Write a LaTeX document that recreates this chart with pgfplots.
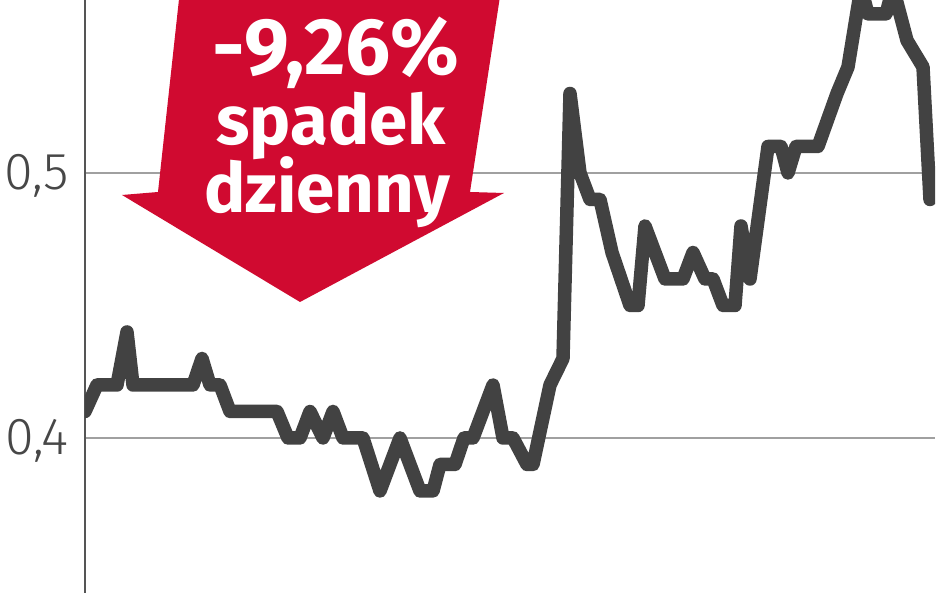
\documentclass[border=0pt]{standalone}
\usepackage{fontspec}
\setmainfont{Fira Sans}
\newfontfamily\lightfont{Fira Sans Light}
\usepackage{pgfplots}
\pgfplotsset{compat=1.18}

\definecolor{linegray}{RGB}{66,66,66}
\definecolor{gridgray}{RGB}{160,160,160}
\definecolor{axisgray}{RGB}{85,85,85}
\definecolor{arrowred}{RGB}{208,10,48}

\begin{document}
\begin{tikzpicture}
\begin{axis}[
    scale only axis,
    width=850pt, height=593pt,
    xmin=0, xmax=850,
    ymin=0.34151, ymax=0.56528,
    axis x line=none,
    axis y line*=left,
    axis line style={axisgray, line width=2.2pt},
    xtick=\empty,
    ytick={0.4,0.5},
    yticklabels={{0,4},{0,5}},
    major tick length=0pt,
    ymajorgrids,
    grid style={gridgray, line width=1.6pt},
    yticklabel style={font=\lightfont\fontsize{52}{52}\selectfont,
        text=black!72, inner sep=0pt, xshift=-16pt, yshift=-3pt},
    clip=true,
]
% kurs dzienny
\addplot[linegray, line width=13.5pt, line join=round, line cap=round] coordinates {
(0,0.41) (12,0.42) (32,0.42) (42,0.44) (48,0.42) (108,0.42) (117,0.43)
(125,0.42) (135,0.42) (145,0.41) (192,0.41) (203,0.40) (215,0.40)
(225,0.41) (238,0.40) (248,0.41) (258,0.40) (278,0.40) (295,0.38)
(315,0.40) (335,0.38) (348,0.38) (355,0.39) (370,0.39) (379,0.40)
(388,0.40) (408,0.42) (418,0.40) (428,0.40) (442,0.39) (448,0.39)
(465,0.42) (478,0.43) (485,0.53) (495,0.50) (505,0.49) (515,0.49)
(527,0.47) (545,0.45) (553,0.45) (560,0.48) (580,0.46) (598,0.46)
(608,0.47) (620,0.46) (628,0.46) (638,0.45) (650,0.45) (656,0.48)
(665,0.46) (683,0.51) (696,0.51) (703,0.50) (711,0.51) (733,0.51)
(752,0.53) (763,0.54) (776,0.57) (783,0.56) (801,0.56) (808,0.57)
(822,0.55) (838,0.54) (845,0.49)
};
\end{axis}

% strzalka z opisem, w pikselach obrazka (od lewego gornego rogu)
\begin{scope}[shift={(current axis.north west)}, xshift=-85pt, x=1pt, y=-1pt]
\fill[arrowred] (180,-10) -- (158,192) -- (122,195) -- (300,302)
    -- (504,193) -- (470,192) -- (501,-10) -- cycle;
\node[anchor=base, text=white, inner sep=0pt,
    font=\fontsize{80}{80}\selectfont\bfseries] at (336,75) {-9,26\%};
\node[anchor=base, text=white, inner sep=0pt,
    font=\fontsize{69}{69}\selectfont\bfseries] at (331,145) {spadek};
\node[anchor=base, text=white, inner sep=0pt,
    font=\fontsize{69}{69}\selectfont\bfseries] at (327,213) {dzienny};
\pgfresetboundingbox
\path[use as bounding box] (0,0) rectangle (948,593);
\end{scope}
\end{tikzpicture}
\end{document}
